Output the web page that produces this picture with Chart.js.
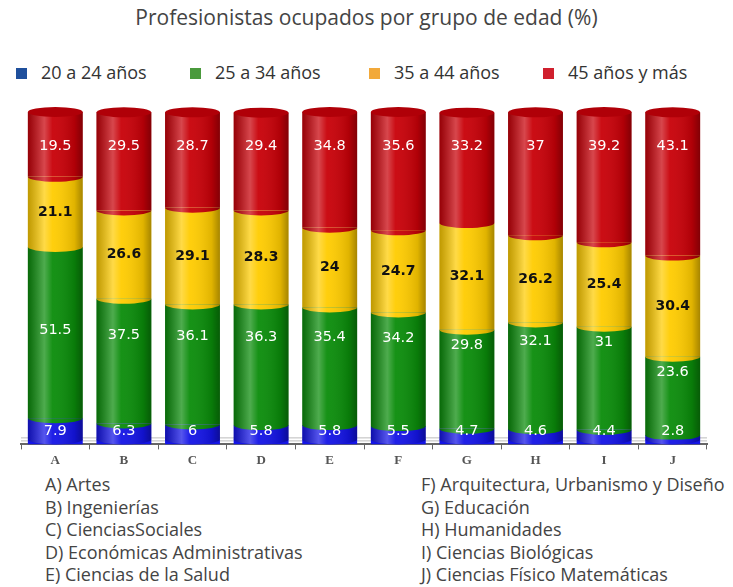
<!DOCTYPE html>
<html>
<head>
<meta charset="utf-8">
<script src="https://cdn.jsdelivr.net/npm/chart.js@4"></script>
<style>
  body { margin: 0; background: #fff; font-family: "Open Sans", sans-serif; }
  #wrap { position: relative; width: 733px; height: 587px; overflow: hidden; }
  #title { position: absolute; top: 3px; left: 0; width: 733px; text-align: center;
    font-size: 21px; color: #444; }
  .leg { position: absolute; top: 60px; font-size: 18px; color: #333; }
  .leg i { display: inline-block; width: 11px; height: 11px; margin-right: 14px; vertical-align: 0px; }
  #chartBox { position: absolute; left: 0; top: 95px; width: 733px; height: 376px; }
  .cat { position: absolute; font-size: 18px; color: #444; line-height: 22.5px; }
</style>
</head>
<body>
<div id="wrap">
  <div id="title">Profesionistas ocupados por grupo de edad (%)</div>
  <div class="leg" style="left:16px"><i style="background:#1f4f9c"></i>20 a 24 años</div>
  <div class="leg" style="left:190px"><i style="background:#4a9a3c"></i>25 a 34 años</div>
  <div class="leg" style="left:369px"><i style="background:#f2a93a"></i>35 a 44 años</div>
  <div class="leg" style="left:543px"><i style="background:#d0202e"></i>45 años y más</div>
  <div id="chartBox"><canvas id="chart"></canvas></div>
  <div class="cat" id="catLeft" style="left:45px; top:473px"></div>
  <div class="cat" id="catRight" style="left:421px; top:473px"></div>
</div>
<script>
// ===============================
// DATOS
// ===============================
const letters = ["A", "B", "C", "D", "E", "F", "G", "H", "I", "J"];
const areas = [
  "Artes", "Ingenierías", "CienciasSociales", "Económicas Administrativas", "Ciencias de la Salud",
  "Arquitectura, Urbanismo y Diseño", "Educación", "Humanidades", "Ciencias Biológicas", "Ciencias Físico Matemáticas"
];
const seriesNames = ["20 a 24 años", "25 a 34 años", "35 a 44 años", "45 años y más"];
const age20_24 = [7.9, 6.3, 6, 5.8, 5.8, 5.5, 4.7, 4.6, 4.4, 2.8];
const age25_34 = [51.5, 37.5, 36.1, 36.3, 35.4, 34.2, 29.8, 32.1, 31, 23.6];
const age35_44 = [21.1, 26.6, 29.1, 28.3, 24, 24.7, 32.1, 26.2, 25.4, 30.4];
const age45up  = [19.5, 29.5, 28.7, 29.4, 34.8, 35.6, 33.2, 37, 39.2, 43.1];

const barColors = ["#1414e6", "#0a8c0a", "#ffcc00", "#c80008"];
const labelColors = ["#fff", "#fff", "#111", "#fff"];

// leyenda de categorías
document.getElementById("catLeft").innerHTML =
  letters.slice(0, 5).map((l, i) => `${l}) ${areas[i]}`).join("<br>");
document.getElementById("catRight").innerHTML =
  letters.slice(5).map((l, i) => `${l}) ${areas[i + 5]}`).join("<br>");

// ===============================
// EFECTO CILINDRO + ETIQUETAS
// ===============================
const cylinderPlugin = {
  id: "cylinder",
  beforeDatasetsDraw(chart) {
    // piso gris
    const { ctx, chartArea } = chart;
    ctx.save();
    ctx.strokeStyle = "#bbb";
    ctx.lineWidth = 1;
    ctx.beginPath();
    ctx.moveTo(chartArea.left, chartArea.bottom - 6.5);
    ctx.lineTo(chartArea.right, chartArea.bottom - 6.5);
    ctx.moveTo(chartArea.left, chartArea.bottom - 3.5);
    ctx.lineTo(chartArea.right, chartArea.bottom - 3.5);
    ctx.stroke();
    ctx.restore();
  },
  afterDatasetsDraw(chart) {
    const ctx = chart.ctx;
    const n = chart.data.labels.length;
    const last = chart.data.datasets.length - 1;
    for (let i = 0; i < n; i++) {
      const bottom = chart.getDatasetMeta(0).data[i];
      const top = chart.getDatasetMeta(last).data[i];
      const left = top.x - top.width / 2, w = top.width;
      const yTop = top.y, yBase = bottom.base;

      ctx.save();
      // bordes curvos entre segmentos
      for (let di = 1; di <= last; di++) {
        const b = chart.getDatasetMeta(di).data[i];
        ctx.beginPath();
        ctx.ellipse(b.x, b.base, w / 2, 5, 0, 0, Math.PI);
        ctx.fillStyle = barColors[di];
        ctx.fill();
      }
      // base redondeada
      ctx.beginPath();
      ctx.ellipse(bottom.x, yBase - 5, w / 2, 5, 0, 0, Math.PI);
      ctx.fillStyle = barColors[0];
      ctx.fill();

      // sombreado horizontal
      const g = ctx.createLinearGradient(left, 0, left + w, 0);
      g.addColorStop(0, "rgba(0,0,0,0.25)");
      g.addColorStop(0.3, "rgba(255,255,255,0.28)");
      g.addColorStop(0.45, "rgba(255,255,255,0.05)");
      g.addColorStop(0.85, "rgba(0,0,0,0.12)");
      g.addColorStop(1, "rgba(0,0,0,0.35)");
      ctx.beginPath();
      ctx.rect(left, yTop, w, yBase - 5 - yTop);
      ctx.ellipse(bottom.x, yBase - 5, w / 2, 5, 0, 0, Math.PI);
      ctx.fillStyle = g;
      ctx.fill();

      // tapa superior
      ctx.beginPath();
      ctx.ellipse(top.x, yTop, w / 2, 5, 0, 0, Math.PI * 2);
      ctx.fillStyle = "#b00008";
      ctx.fill();
      ctx.restore();
    }

    // etiquetas de valores
    ctx.save();
    ctx.textAlign = "center";
    ctx.textBaseline = "middle";
    chart.data.datasets.forEach((ds, di) => {
      ctx.font = di === 2 ? "bold 14px 'DejaVu Sans', sans-serif" : "14.5px 'DejaVu Sans', sans-serif";
      chart.getDatasetMeta(di).data.forEach((bar, i) => {
        let y = (bar.y + bar.base) / 2;
        if (di === 0) y = Math.min(y + 2, bar.base - 13);
        if (di === 1) y = Math.max(bar.base - 88, bar.y + 16);
        if (di === 3) y = bar.y + 34;
        ctx.fillStyle = labelColors[di];
        ctx.fillText(String(ds.data[i]), bar.x, y);
      });
    });
    ctx.restore();
  }
};

const ctx = document.getElementById("chart").getContext("2d");
new Chart(ctx, {
  type: "bar",
  data: {
    labels: letters,
    datasets: [age20_24, age25_34, age35_44, age45up].map((d, i) => ({
      label: seriesNames[i],
      data: d,
      backgroundColor: barColors[i],
      borderWidth: 0,
      barPercentage: 0.8,
      categoryPercentage: 1
    }))
  },
  options: {
    responsive: true,
    maintainAspectRatio: false,
    animation: false,
    layout: { padding: { left: 21, right: 26, top: 17, bottom: 0 } },
    plugins: { legend: { display: false }, tooltip: { enabled: false } },
    scales: {
      x: {
        stacked: true,
        grid: { display: true, drawOnChartArea: false, drawTicks: true, tickLength: 5, color: "#666", offset: true },
        border: { color: "#666", width: 2 },
        ticks: { color: "#555", font: { family: "'Liberation Serif', serif", size: 13, weight: "bold" }, padding: 3 }
      },
      y: { stacked: true, display: false, min: 0, max: 100 }
    }
  },
  plugins: [cylinderPlugin]
});
</script>
</body>
</html>
